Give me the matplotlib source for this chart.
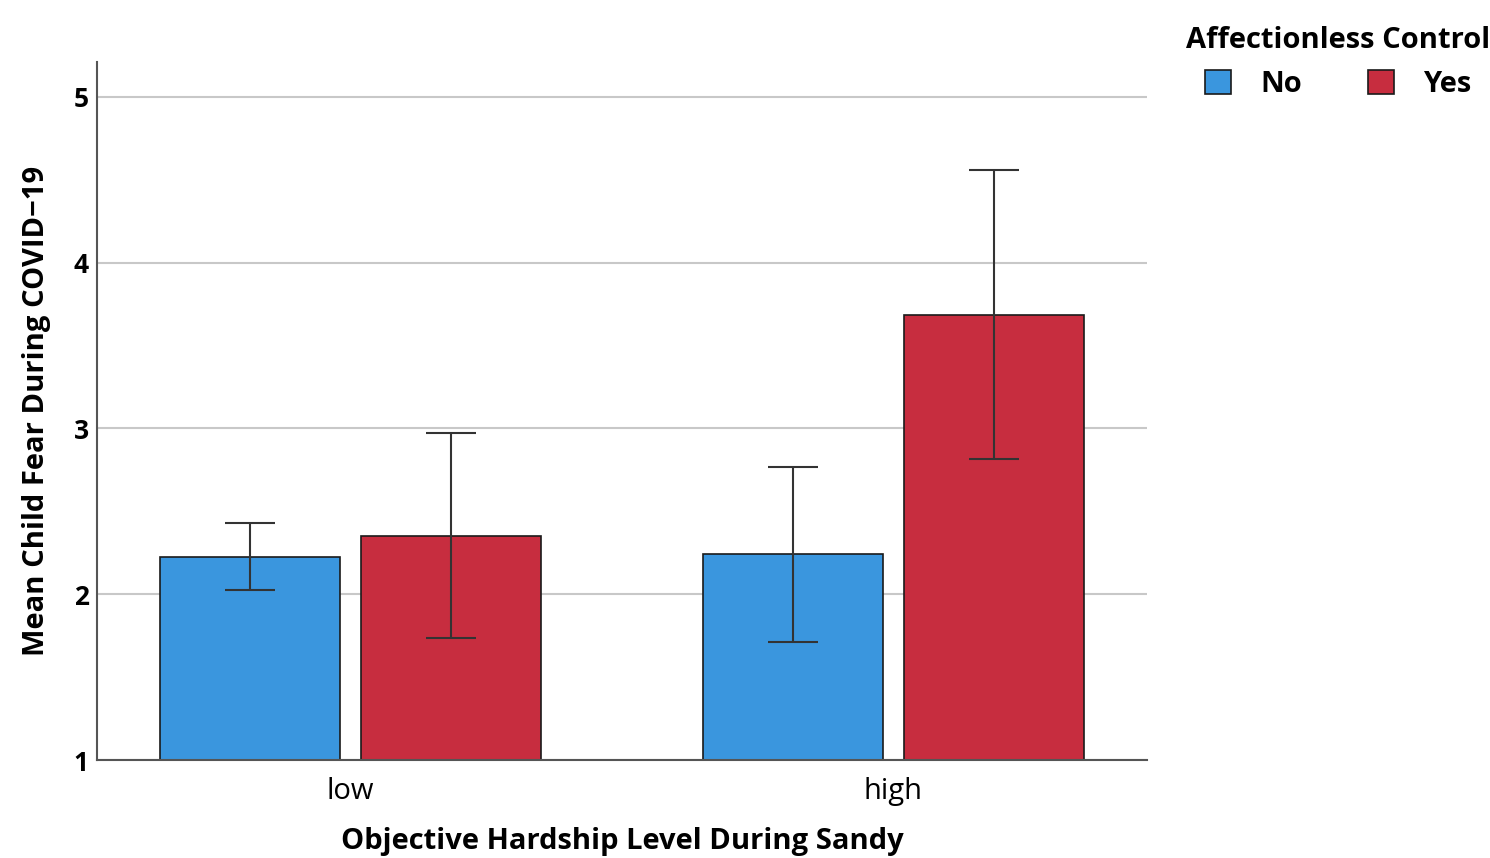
import matplotlib.pyplot as plt
import numpy as np

plt.rcParams['font.family'] = ['Open Sans', 'DejaVu Sans']

categories = ['low', 'high']
groups = ['No', 'Yes']
means_no = [2.225, 2.24]
means_yes = [2.35, 3.685]
err_lo_no = [2.025, 1.71]
err_hi_no = [2.43, 2.77]
err_lo_yes = [1.735, 2.815]
err_hi_yes = [2.97, 4.56]

blue = '#3A96DE'
red = '#C72D3F'

fig = plt.figure(figsize=(14.9, 8.58), dpi=100)
ax = fig.add_axes([0.0651, 0.1142, 0.7047, 0.8135])

x = np.arange(len(categories))
w = 0.333
off = 0.185

def draw(pos, means, lo, hi, color, label):
	means = np.array(means)
	yerr = [means - np.array(lo), np.array(hi) - means]
	ax.bar(pos, np.array(means) - 1, w, bottom=1, color=color, edgecolor='#1a1a1a',
		linewidth=1.2, label=label, zorder=2)
	ax.errorbar(pos, means, yerr=yerr, fmt='none', ecolor='#333333',
		elinewidth=1.5, capsize=18, capthick=1.5, zorder=3)

draw(x - off, means_no, err_lo_no, err_hi_no, blue, groups[0])
draw(x + off, means_yes, err_lo_yes, err_hi_yes, red, groups[1])

ax.set_xlim(-0.467, 1.467)
ax.set_ylim(1, 5.21)
ax.set_yticks([1, 2, 3, 4, 5])
ax.set_xticks(x)
ax.set_xticklabels(categories, fontsize=21)
for t in ax.get_yticklabels():
	t.set_fontsize(19)
	t.set_fontweight('bold')
ax.tick_params(axis='y', length=0, pad=6)
ax.tick_params(axis='x', length=0, pad=12)
ax.yaxis.grid(True, color='#c8c8c8', linewidth=1.5, zorder=0)
ax.set_axisbelow(True)
for s in ['top', 'right']:
	ax.spines[s].set_visible(False)
for s in ['left', 'bottom']:
	ax.spines[s].set_color('#555555')
	ax.spines[s].set_linewidth(1.5)

ax.set_ylabel('Mean Child Fear During COVID\u221219', fontsize=21, fontweight='bold', labelpad=16)
ax.set_xlabel('Objective Hardship Level During Sandy', fontsize=21, fontweight='bold', labelpad=15)

leg = fig.legend(loc='upper center', bbox_to_anchor=(0.898, 1.0), ncol=2, frameon=False,
	title='Affectionless Control', fontsize=21, title_fontsize=21,
	handlelength=0.9, handleheight=0.9, columnspacing=2.25, handletextpad=1.0)
leg.get_title().set_fontweight('bold')
for t in leg.get_texts():
	t.set_fontweight('bold')

fig.savefig('out.png', dpi=100)
